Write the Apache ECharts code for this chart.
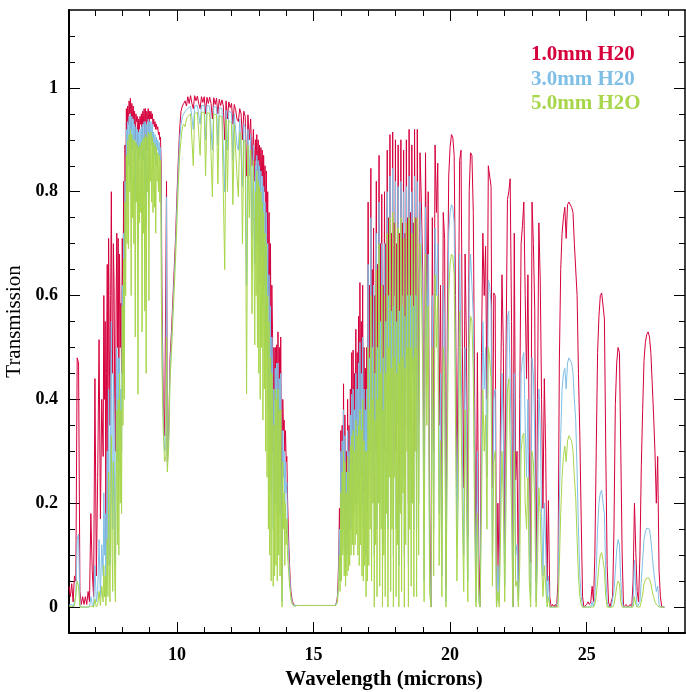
<!DOCTYPE html>
<html>
<head>
<meta charset="utf-8">
<script src="https://cdn.jsdelivr.net/npm/echarts@6/dist/echarts.min.js"></script>
<style>
html,body{margin:0;padding:0;background:#fff;}
#chart{width:686px;height:692px;}
</style>
</head>
<body>
<div id="chart"></div>
<script>
// Wavelength grid (microns)
const wavelength = [
  6.05,6.10,6.15,6.20,6.25,6.30,6.35,6.40,6.45,6.50,6.55,6.60,6.65,6.70,6.75,6.80,
  6.85,6.90,6.95,7.00,7.05,7.10,7.15,7.20,7.25,
  7.300,7.325,7.350,7.375,7.400,7.425,7.450,7.475,7.500,7.525,7.550,7.575,7.600,7.625,7.650,7.675,7.700,7.725,7.750,7.775,7.800,7.825,7.850,7.875,7.900,7.925,7.950,7.975,8.000,8.025,8.050,8.075,8.100,8.125,8.150,8.175,
  8.200,8.225,8.250,8.275,8.300,8.325,8.350,8.375,8.400,8.425,8.450,8.475,8.500,8.525,8.550,8.575,8.600,8.625,8.650,8.675,8.700,8.725,8.750,8.775,8.800,8.825,8.850,8.875,8.900,8.925,8.950,8.975,9.000,9.025,9.050,9.075,9.100,9.125,9.150,9.175,9.200,9.225,9.250,9.275,9.300,9.325,9.350,9.375,9.400,9.425,
  9.45,9.50,9.55,9.60,9.62,9.65,9.70,9.75,9.80,9.85,9.90,9.95,10.00,10.05,10.10,
  10.15,10.20,10.25,10.30,10.35,10.40,10.45,10.50,10.55,10.60,10.65,10.70,10.75,10.80,10.85,10.90,10.95,11.00,11.05,11.10,11.15,11.20,11.25,11.30,11.35,11.40,11.45,11.50,11.55,11.60,11.65,11.70,11.75,11.80,11.85,11.90,11.95,12.00,12.05,12.10,12.15,12.20,12.25,12.30,12.35,12.40,12.45,12.50,12.55,12.60,12.65,12.70,12.75,12.80,12.85,
  12.875,12.900,12.925,12.950,12.975,13.000,13.025,13.050,13.075,13.100,13.125,13.150,13.175,13.200,13.225,13.250,13.275,13.300,
  13.325,13.350,13.375,13.400,13.425,13.450,13.475,13.500,13.525,13.550,13.575,13.600,13.625,13.650,13.675,13.700,13.725,13.750,13.775,13.800,13.825,13.850,13.875,13.900,13.925,13.950,13.975,14.000,14.025,14.050,14.075,14.100,14.125,14.150,14.175,14.200,14.225,14.250,14.275,14.300,
  14.40,14.60,15.00,15.40,15.60,15.70,15.80,
  15.850,15.875,15.900,15.925,15.950,15.975,16.000,16.025,16.050,16.075,16.100,16.125,16.150,16.175,16.200,16.225,16.250,16.275,16.300,16.325,16.350,16.375,16.400,16.425,16.450,16.475,16.500,16.525,16.550,16.575,16.600,16.625,16.650,16.675,16.700,16.725,16.750,16.775,16.800,16.825,16.850,16.875,16.900,16.925,16.950,16.975,
  17.000,17.025,17.050,17.075,17.100,17.125,17.150,17.175,17.200,17.225,17.250,17.275,17.300,17.325,17.350,17.375,17.400,17.425,17.450,17.475,17.500,17.525,17.550,17.575,17.600,17.625,17.650,17.675,17.700,17.725,17.750,17.775,17.800,17.825,17.850,17.875,17.900,17.925,17.950,17.975,18.000,18.025,18.050,18.075,18.100,18.125,18.150,18.175,18.200,18.225,18.250,18.275,18.300,18.325,18.350,18.375,18.400,18.425,18.450,18.475,18.500,18.525,18.550,18.575,18.600,18.625,18.650,18.675,18.700,18.725,18.750,18.775,18.800,
  18.85,18.90,18.95,19.00,19.05,19.10,19.15,19.20,19.25,19.30,19.35,19.40,19.45,19.50,19.55,19.60,19.65,19.70,19.75,19.80,19.85,19.90,19.95,20.00,20.05,20.10,20.15,20.20,20.25,20.30,20.35,20.40,20.45,20.50,20.55,20.60,20.65,20.70,20.75,20.80,20.85,20.90,20.95,21.00,21.05,21.10,21.15,21.20,21.25,21.30,21.35,21.40,21.45,21.50,21.55,21.60,21.65,21.70,
  21.75,21.80,21.85,21.90,21.95,22.00,22.05,22.10,22.15,22.20,22.25,22.30,22.35,22.40,22.45,22.50,22.55,22.60,22.65,22.70,22.75,22.80,22.85,22.90,22.95,23.00,23.05,23.10,23.15,23.20,23.25,23.30,23.35,23.40,23.45,23.50,23.55,23.60,23.65,23.70,23.75,23.80,23.85,23.90,23.95,24.00,24.05,24.10,24.15,24.20,24.25,24.30,24.35,24.40,24.45,24.50,24.55,24.60,24.65,24.70,24.75,24.80,24.85,
  24.90,24.95,25.00,25.05,25.10,25.15,25.20,25.25,25.30,25.35,25.40,25.45,25.50,25.55,25.60,25.65,25.70,25.75,25.80,25.85,25.90,25.95,26.00,26.05,26.10,26.15,26.20,26.25,26.30,26.35,26.40,26.45,26.50,26.55,26.60,26.65,26.70,26.75,26.80,26.85,26.90,26.95,27.00,27.05,27.10,27.15,27.20,27.25,27.30,27.35,27.40,27.45,27.50,27.55,27.60,27.65,27.70,27.75,27.80,27.85
];

// Transmission, 1.0 mm precipitable water
const trans1mm = [
  .04,.02,.045,.01,.06,.05,.48,.47,.03,.005,.02,.005,.02,.005,.03,.01,
  .18,.07,.02,.44,.06,.25,.515,.17,.40,
  .29,.60,.40,.55,.12,.45,.66,.30,.71,.50,.35,.60,.80,.55,.45,.70,.62,.40,.30,.58,.72,.50,.71,.45,.68,.50,.585,.45,.71,.55,.82,.62,.89,.80,.96,.90,
  .965,.93,.975,.95,.98,.92,.97,.94,.965,.93,.955,.90,.95,.935,.945,.86,.94,.92,.945,.93,.95,.89,.955,.93,.96,.90,.96,.88,.955,.935,.96,.90,.955,.94,.955,.94,.95,.93,.94,.925,.935,.92,.93,.92,.925,.91,.915,.90,.905,.85,
  .62,.40,.33,.33,.82,.28,.34,.48,.53,.59,.65,.71,.79,.86,.92,
  .955,.965,.97,.975,.965,.983,.97,.985,.97,.96,.985,.975,.984,.97,.96,.983,.972,.983,.95,.982,.97,.982,.97,.94,.981,.968,.98,.95,.978,.966,.977,.965,.90,.975,.94,.973,.962,.97,.93,.968,.958,.94,.935,.96,.95,.90,.955,.945,.83,.948,.90,.94,.85,.92,.82,
  .90,.86,.91,.84,.90,.82,.89,.80,.885,.83,.88,.78,.87,.80,.85,.72,.84,.70,
  .80,.60,.76,.55,.70,.45,.62,.535,.30,.50,.40,.50,.35,.505,.30,.53,.35,.50,.30,.52,.32,.05,.40,.34,.36,.30,.34,.28,.29,.21,.16,.115,.08,.05,.03,.02,.012,.008,.005,.003,
  .003,.003,.003,.003,.003,.003,.003,
  .01,.02,.05,.10,.19,.08,.34,.12,.35,.20,.43,.15,.37,.12,.30,.14,.40,.18,.35,.16,.42,.20,.49,.22,.495,.25,.45,.28,.535,.26,.49,.30,.56,.28,.625,.35,.55,.30,.62,.25,.50,.32,.46,.20,.50,.30,
  .78,.40,.62,.45,.845,.35,.65,.50,.73,.20,.60,.45,.82,.30,.66,.50,.87,.35,.70,.50,.795,.25,.62,.45,.80,.30,.70,.55,.88,.30,.75,.55,.91,.35,.72,.55,.915,.25,.74,.60,.90,.30,.70,.50,.89,.20,.72,.55,.90,.35,.74,.60,.88,.25,.72,.50,.90,.60,.75,.20,.92,.55,.76,.35,.89,.60,.74,.30,.92,.60,.75,.30,.92,
  .35,.875,.78,.64,.15,.875,.55,.80,.18,0,.75,.30,.89,.76,.855,.35,.62,.17,.76,.71,.04,.55,.83,.885,.91,.905,.87,.60,.23,.50,.86,.88,.50,.23,.68,.50,.135,.80,.875,.87,.76,.40,.05,.49,.10,0,.49,.72,.60,.695,.40,.85,.85,.81,.23,.605,.60,0,
  .20,.05,.405,.64,.50,.12,.50,.785,.80,.825,.55,0,.72,.245,.30,.03,.40,.70,.735,.78,.60,.44,.64,.30,.085,.78,.70,.57,.05,.40,.74,.63,.40,.19,.44,.30,.05,.205,.02,0,.005,0,.005,0,.05,.47,.65,.72,.75,.77,.71,.775,.78,.78,.77,.76,.70,.70,.60,.45,.33,.17,.02,
  0,0,.005,.01,.005,.01,.04,.01,.10,.30,.49,.56,.60,.605,.58,.555,.30,.08,.01,0,0,.02,.15,.39,.47,.50,.49,.30,.10,0,0,.005,0,0,.005,0,.05,.20,.105,.03,.01,.10,.27,.38,.475,.51,.525,.53,.52,.49,.43,.37,.30,.20,.29,.07,.02,0,0,0
];

// Transmission, 3.0 mm precipitable water
const trans3mm = [
  .004,.002,.005,0,.01,.02,.13,.14,.005,0,0,0,0,0,.002,0,
  .02,.005,0,.08,.01,.03,.13,.02,.12,
  .06,.22,.10,.18,.02,.15,.30,.08,.42,.20,.08,.35,.55,.28,.15,.45,.35,.15,.08,.35,.50,.28,.48,.25,.48,.32,.42,.30,.62,.45,.72,.50,.82,.72,.92,.82,
  .935,.85,.945,.90,.95,.82,.945,.88,.94,.86,.93,.78,.925,.88,.92,.70,.915,.86,.92,.87,.925,.76,.93,.86,.935,.79,.935,.73,.93,.88,.94,.79,.935,.90,.935,.89,.93,.86,.915,.87,.91,.85,.905,.88,.90,.87,.895,.86,.885,.78,
  .56,.37,.30,.31,.79,.27,.33,.46,.51,.57,.63,.69,.77,.84,.90,
  .93,.945,.95,.955,.955,.96,.96,.965,.962,.92,.965,.965,.966,.964,.93,.966,.966,.966,.90,.966,.965,.965,.964,.88,.964,.963,.963,.89,.962,.96,.96,.958,.80,.957,.88,.955,.952,.952,.86,.95,.948,.89,.88,.94,.938,.81,.93,.925,.62,.92,.83,.91,.71,.89,.66,
  .85,.74,.87,.70,.86,.66,.85,.62,.84,.68,.83,.58,.81,.62,.78,.50,.76,.48,
  .70,.38,.64,.30,.58,.22,.52,.47,.15,.42,.20,.46,.20,.47,.18,.47,.22,.44,.18,.45,.20,.01,.34,.25,.30,.20,.28,.22,.24,.16,.12,.09,.06,.04,.02,.015,.008,.005,.003,.002,
  .003,.003,.003,.003,.003,.003,.003,
  .005,.012,.035,.07,.15,.05,.30,.09,.32,.15,.38,.11,.33,.08,.26,.10,.34,.12,.30,.12,.37,.15,.41,.17,.42,.18,.38,.20,.45,.20,.42,.22,.47,.20,.51,.25,.45,.20,.52,.15,.42,.22,.38,.10,.42,.18,
  .66,.25,.48,.30,.75,.20,.50,.35,.62,.10,.45,.30,.72,.15,.50,.35,.78,.20,.55,.35,.70,.12,.48,.30,.70,.15,.55,.40,.80,.15,.60,.40,.83,.20,.57,.40,.845,.10,.58,.45,.82,.15,.55,.35,.81,.08,.57,.40,.82,.20,.58,.45,.80,.10,.56,.35,.81,.45,.60,.08,.83,.40,.60,.20,.80,.45,.58,.15,.83,.45,.60,.15,.82,
  .20,.78,.70,.55,.05,.77,.45,.68,.08,0,.60,.15,.73,.60,.70,.18,.45,.06,.62,.55,.01,.40,.72,.76,.775,.77,.74,.45,.12,.35,.68,.68,.30,.10,.50,.35,.05,.62,.68,.68,.56,.25,.01,.30,.03,0,.30,.55,.42,.50,.25,.63,.62,.58,.10,.40,.42,0,
  .08,.01,.25,.45,.33,.04,.30,.56,.57,.57,.30,0,.45,.10,.12,.01,.18,.45,.48,.49,.35,.25,.40,.12,.02,.48,.45,.33,.01,.18,.42,.35,.18,.06,.20,.12,.01,.06,0,0,0,0,0,0,.01,.20,.33,.42,.45,.46,.42,.47,.48,.48,.47,.45,.40,.36,.26,.15,.06,.02,0,
  0,0,0,0,0,0,.01,0,.02,.07,.15,.20,.22,.225,.20,.18,.06,.01,0,0,0,0,.03,.07,.11,.13,.12,.05,.01,0,0,0,0,0,0,0,.01,.09,.03,0,0,.01,.05,.09,.13,.145,.152,.155,.15,.13,.10,.07,.05,.03,.04,.005,0,0,0,0
];

// Transmission, 5.0 mm precipitable water
const trans5mm = [
  .002,0,.001,0,.002,.005,.05,.04,0,0,0,0,0,0,0,0,
  .002,0,0,.015,0,.005,.03,.003,.04,
  .01,.08,.02,.06,.003,.05,.13,.02,.26,.08,.01,.18,.33,.12,.03,.28,.20,.05,.01,.22,.38,.12,.40,.10,.45,.20,.38,.18,.58,.35,.67,.40,.78,.60,.87,.70,
  .90,.69,.91,.80,.92,.60,.91,.75,.90,.70,.90,.52,.895,.78,.89,.41,.885,.74,.89,.76,.895,.53,.90,.72,.905,.57,.91,.45,.905,.80,.915,.59,.91,.82,.915,.78,.905,.76,.895,.77,.89,.72,.885,.82,.875,.80,.87,.78,.86,.65,
  .47,.34,.28,.29,.52,.26,.31,.44,.49,.55,.61,.67,.74,.81,.87,
  .90,.925,.93,.925,.94,.945,.945,.95,.948,.85,.95,.952,.953,.95,.87,.953,.953,.953,.83,.952,.95,.951,.95,.79,.95,.948,.948,.815,.946,.945,.944,.942,.65,.94,.80,.937,.934,.932,.775,.93,.928,.83,.79,.915,.91,.70,.90,.895,.41,.89,.75,.88,.565,.86,.505,
  .80,.60,.84,.50,.82,.45,.81,.40,.80,.50,.78,.36,.76,.42,.72,.30,.70,.25,
  .60,.15,.55,.10,.48,.05,.45,.40,.04,.35,.06,.42,.08,.40,.05,.42,.10,.38,.06,.38,.10,0,.28,.15,.22,.08,.20,.12,.17,.10,.08,.06,.04,.03,.015,.01,.005,.003,.002,.001,
  .003,.003,.003,.003,.003,.003,.003,
  .003,.008,.025,.05,.10,.03,.22,.05,.26,.10,.30,.06,.28,.04,.22,.06,.29,.07,.26,.08,.31,.10,.33,.12,.34,.10,.30,.12,.36,.14,.33,.10,.35,.08,.38,.12,.34,.06,.40,.05,.32,.08,.30,.02,.30,.05,
  .50,.08,.38,.15,.60,.05,.40,.20,.50,0,.36,.12,.65,.02,.40,.20,.70,.04,.45,.15,.62,0,.38,.10,.60,.02,.45,.18,.72,0,.50,.25,.75,.03,.46,.15,.76,0,.48,.25,.74,.02,.45,.12,.73,0,.47,.18,.75,.03,.48,.22,.71,0,.46,.12,.74,.30,.50,0,.75,.15,.50,.04,.72,.20,.48,.02,.75,.30,.50,.02,.75,
  .10,.70,.62,.45,.01,.68,.35,.58,.03,0,.50,.06,.64,.50,.60,.08,.32,.02,.50,.45,0,.30,.60,.66,.68,.675,.64,.35,.05,.22,.57,.57,.18,.03,.38,.20,.01,.50,.56,.55,.45,.15,0,.18,.01,0,.18,.42,.30,.37,.15,.50,.48,.44,.04,.28,.30,0,
  .03,0,.15,.30,.20,.01,.20,.42,.44,.44,.18,0,.30,.04,.05,0,.08,.30,.33,.335,.20,.15,.25,.05,0,.30,.28,.20,0,.08,.23,.18,.08,.02,.08,.04,0,.02,0,0,0,0,0,0,0,.08,.18,.25,.29,.31,.28,.32,.33,.33,.32,.30,.25,.21,.13,.06,.02,.005,0,
  0,0,0,0,0,0,0,0,.005,.02,.05,.08,.10,.105,.09,.07,.02,0,0,0,0,0,.005,.02,.04,.05,.045,.01,0,0,0,0,0,0,0,0,0,.02,.005,0,0,0,.01,.025,.045,.052,.056,.058,.055,.045,.03,.02,.01,.005,.008,0,0,0,0,0
];

const seriesNames = ['1.0mm H20', '3.0mm H20', '5.0mm H2O'];
const seriesColors = ['#d6003c', '#7fbfe6', '#a8d64b'];

const xMajorTicks = [10, 15, 20, 25];
const xMinorTicks = [7, 8, 9, 11, 12, 13, 14, 16, 17, 18, 19, 21, 22, 23, 24, 26, 27, 28];
const yMajorTicks = [0, 0.2, 0.4, 0.6, 0.8, 1];
const yMinorTicks = [0.05, 0.1, 0.15, 0.25, 0.3, 0.35, 0.45, 0.5, 0.55, 0.65, 0.7, 0.75, 0.85, 0.9, 0.95, 1.05, 1.1];

if (trans1mm.length !== wavelength.length || trans3mm.length !== wavelength.length || trans5mm.length !== wavelength.length) {
  throw new Error('length mismatch ' + wavelength.length + ' ' + trans1mm.length + ' ' + trans3mm.length + ' ' + trans5mm.length);
}

const XMIN = 6.05, XMAX = 28.6, YMIN = -0.05, YMAX = 1.15;
const serif = '"Liberation Serif", "Times New Roman", serif';

function xAx(pos, ticks, len, opts) {
  return Object.assign({
    type: 'value', min: XMIN, max: XMAX, position: pos,
    axisLine: { show: false, onZero: false },
    axisTick: { show: true, inside: true, length: len, customValues: ticks, lineStyle: { color: '#000', width: 1 } },
    axisLabel: { show: false },
    splitLine: { show: false }
  }, opts || {});
}
function yAx(pos, ticks, len, opts) {
  return Object.assign({
    type: 'value', min: YMIN, max: YMAX, position: pos,
    axisLine: { show: false, onZero: false },
    axisTick: { show: true, inside: true, length: len, customValues: ticks, lineStyle: { color: '#000', width: 1 } },
    axisLabel: { show: false },
    splitLine: { show: false }
  }, opts || {});
}

const chart = echarts.init(document.getElementById('chart'), null, { renderer: 'canvas' });
const option = {
  animation: false,
  backgroundColor: '#fff',
  grid: { left: 69, right: 1, top: 10, bottom: 59, containLabel: false, outerBoundsMode: 'none' },
  xAxis: [
    xAx('bottom', xMajorTicks, 11, {
      axisLine: { show: true, onZero: false, lineStyle: { color: '#000', width: 2 } },
      axisLabel: { show: true, customValues: xMajorTicks, margin: 13, color: '#000', fontFamily: serif, fontWeight: 'bold', fontSize: 18 },
      name: 'Wavelength (microns)', nameLocation: 'middle', nameGap: 35,
      nameTextStyle: { color: '#000', fontFamily: serif, fontWeight: 'bold', fontSize: 21, padding: [0, 0, 0, 14] }
    }),
    xAx('bottom', xMinorTicks, 6),
    xAx('top', xMajorTicks, 11, { axisLine: { show: true, onZero: false, lineStyle: { color: '#000', width: 1.5 } } }),
    xAx('top', xMinorTicks, 6)
  ],
  yAxis: [
    yAx('left', yMajorTicks, 11, {
      axisLine: { show: true, onZero: false, lineStyle: { color: '#000', width: 2 } },
      axisLabel: { show: true, customValues: yMajorTicks, margin: 11, color: '#000', fontFamily: serif, fontWeight: 'bold', fontSize: 18 },
      name: 'Transmission', nameLocation: 'middle', nameGap: 41,
      nameTextStyle: { color: '#000', fontFamily: serif, fontSize: 21 }
    }),
    yAx('left', yMinorTicks, 6),
    yAx('right', yMajorTicks, 11, { axisLine: { show: true, onZero: false, lineStyle: { color: '#000', width: 1.5 } } }),
    yAx('right', yMinorTicks, 6)
  ],
  series: [trans1mm, trans3mm, trans5mm].map((vals, k) => ({
    name: seriesNames[k],
    type: 'line',
    xAxisIndex: 0, yAxisIndex: 0,
    showSymbol: false,
    symbol: 'none',
    clip: true,
    lineStyle: { color: seriesColors[k], width: 1 },
    itemStyle: { color: seriesColors[k] },
    emphasis: { disabled: true },
    data: wavelength.map((w, i) => [w, vals[i]])
  })),
  graphic: seriesNames.map((nm, k) => ({
    type: 'text', left: 531, top: 44.5 + k * 24.5,
    style: { text: nm, fill: seriesColors[k], font: 'bold 21px ' + serif }
  }))
};
chart.setOption(option);
</script>
</body>
</html>
